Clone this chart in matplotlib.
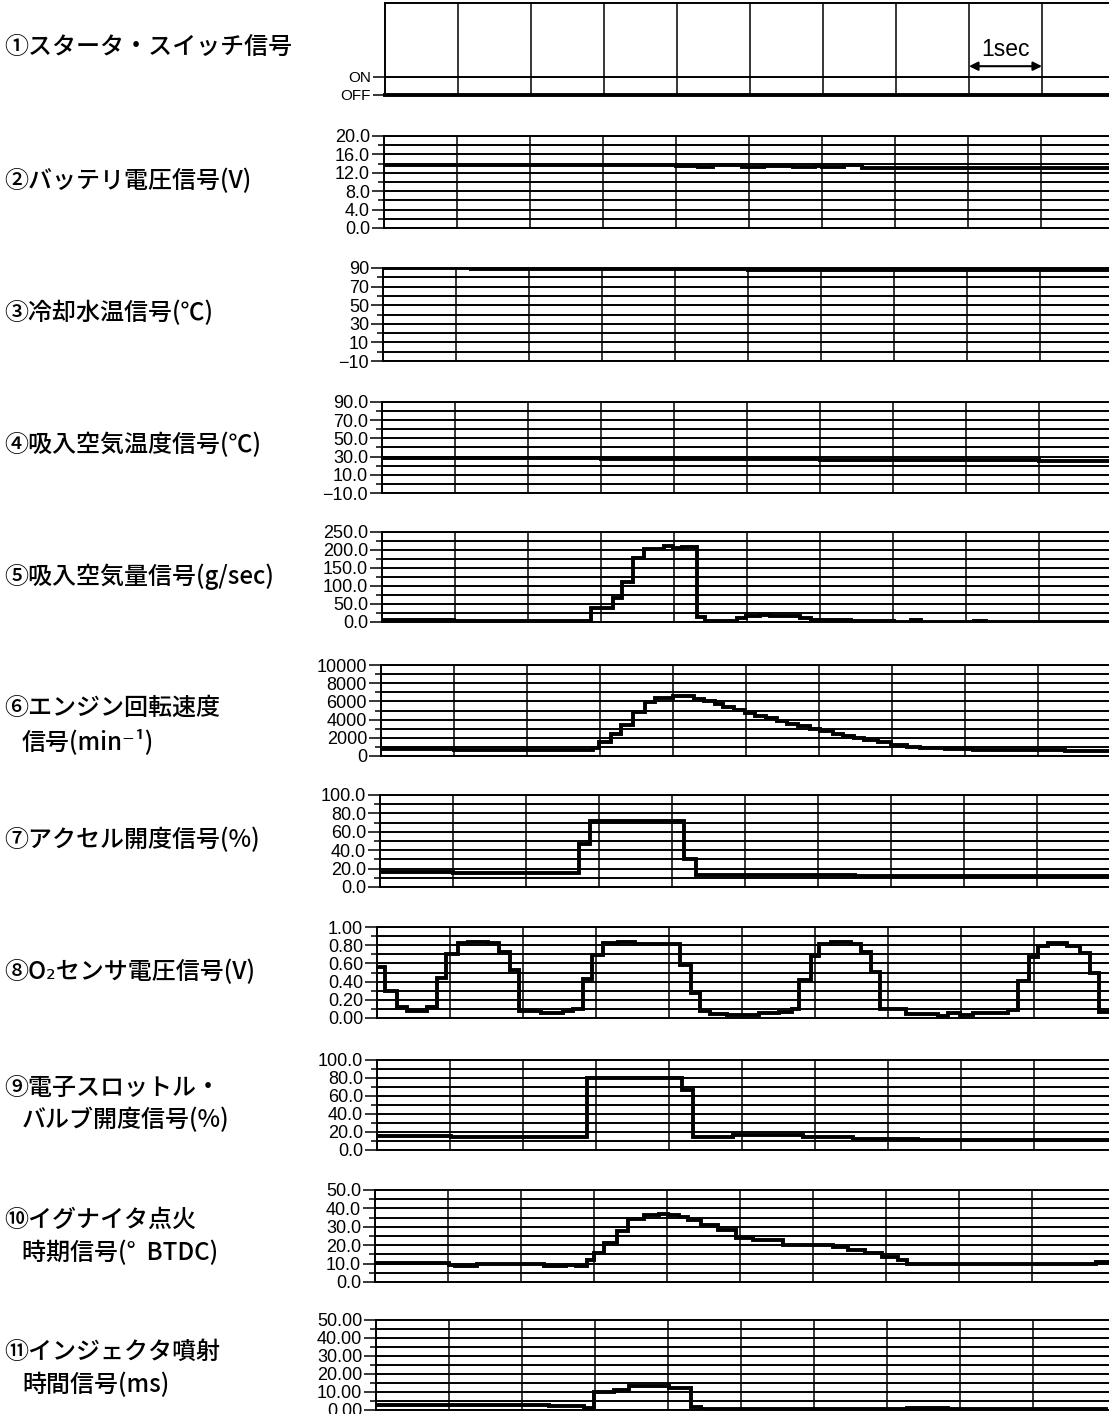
import matplotlib
matplotlib.use('Agg')
import matplotlib.pyplot as plt
import numpy as np

plt.rcParams['font.family'] = ['Liberation Sans', 'DejaVu Sans']

W, H = 1109, 1414
PX_PER_SEC = 73.0
JP = ['Noto Sans CJK JP', 'DejaVu Sans']

# ---------------- data ----------------
panel_titles = [
    ["①スタータ・スイッチ信号"],
    ["②バッテリ電圧信号(V)"],
    ["③冷却水温信号(℃)"],
    ["④吸入空気温度信号(℃)"],
    ["⑤吸入空気量信号(g/sec)"],
    ["⑥エンジン回転速度", "信号(min⁻¹)"],
    ["⑦アクセル開度信号(%)"],
    ["⑧O₂センサ電圧信号(V)"],
    ["⑨電子スロットル・", "バルブ開度信号(%)"],
    ["⑩イグナイタ点火", "時期信号(°  BTDC)"],
    ["⑪インジェクタ噴射", "時間信号(ms)"],
]

# 1: starter switch (0 = OFF, 1 = ON)
starter_t = [0, 10]
starter_v = [0, 0]
starter_ticks = [0, 1]
starter_ticklabels = ["OFF", "ON"]

# 2: battery voltage (V)
batt_t = [0, 4.0, 4.3, 4.5, 4.9, 5.2, 5.6, 5.9, 6.0, 6.3, 6.55, 10]
batt_v = [13.7, 13.5, 13.2, 13.6, 13.3, 13.4, 13.2, 13.5, 13.3, 13.6, 13.1, 13.1]
batt_ticks = [0, 4, 8, 12, 16, 20]
batt_ticklabels = ["0.0", "4.0", "8.0", "12.0", "16.0", "20.0"]

# 3: coolant temperature (deg C)
cool_t = [0, 1.2, 3.0, 5.0, 8.5, 10]
cool_v = [89.5, 89, 88.5, 88, 87.5, 87.5]
cool_ticks = [-10, 10, 30, 50, 70, 90]
cool_ticklabels = ["−10", "10", "30", "50", "70", "90"]

# 4: intake air temperature (deg C)
iat_t = [0, 3.0, 6.0, 9.0, 10]
iat_v = [28, 27.5, 26.5, 25, 25]
iat_ticks = [-10, 10, 30, 50, 70, 90]
iat_ticklabels = ["−10.0", "10.0", "30.0", "50.0", "70.0", "90.0"]

# 5: mass air flow (g/sec)
maf_t = [0, 0.98, 2.86, 3.17, 3.29, 3.44, 3.59, 3.86, 3.98, 4.11, 4.31, 4.43,
         4.86, 4.98, 5.18, 5.32, 5.73, 5.87, 6.43, 7.01, 7.25, 7.39, 8.11, 8.28, 10]
maf_v = [5, 2, 38, 67, 110, 178, 202, 211, 205, 209, 14, 3,
         12, 17, 19, 17, 10, 6, 2, 1, 6, 0.5, 4, 0, 0]
maf_ticks = [0, 50, 100, 150, 200, 250]
maf_ticklabels = ["0.0", "50.0", "100.0", "150.0", "200.0", "250.0"]

# 6: engine speed (min^-1)
rpm_t = [0, 1.0, 2.90, 2.99, 3.15, 3.29, 3.45, 3.61, 3.75, 4.0, 4.29, 4.43, 4.57,
         4.69, 4.84, 4.98, 5.13, 5.27, 5.42, 5.56, 5.71, 5.87, 6.02, 6.19, 6.33,
         6.48, 6.62, 6.81, 6.98, 7.20, 7.39, 7.73, 8.11, 8.59, 9.37, 10]
rpm_v = [780, 680, 900, 1550, 2400, 3400, 4850, 5950, 6400, 6600, 6300, 6050, 5750,
         5400, 5050, 4750, 4450, 4150, 3850, 3550, 3300, 3000, 2750, 2450, 2200,
         1950, 1750, 1500, 1250, 1000, 850, 730, 690, 650, 580, 550]
rpm_ticks = [0, 2000, 4000, 6000, 8000, 10000]
rpm_ticklabels = ["0", "2000", "4000", "6000", "8000", "10000"]

# 7: accelerator opening (%)
acc_t = [0, 1.0, 2.73, 2.88, 4.17, 4.33, 6.5, 10]
acc_v = [16.5, 15, 47, 72, 30, 13.5, 12, 12]
acc_ticks = [0, 20, 40, 60, 80, 100]
acc_ticklabels = ["0.0", "20.0", "40.0", "60.0", "80.0", "100.0"]

# 8: O2 sensor voltage (V)
o2_t = [0, 0.116, 0.272, 0.408, 0.680, 0.816, 0.952, 1.109, 1.245, 1.517, 1.667,
        1.816, 1.939, 2.245, 2.551, 2.687, 2.823, 2.939, 3.095, 3.299, 3.537,
        4.150, 4.306, 4.422, 4.558, 4.796, 5.238, 5.510, 5.680, 5.782, 5.939,
        6.054, 6.224, 6.497, 6.633, 6.769, 6.891, 7.245, 7.687, 7.823, 7.993,
        8.163, 8.469, 8.639, 8.776, 8.932, 9.048, 9.197, 9.456, 9.626, 9.762,
        9.884, 10.1]
o2_v = [0.56, 0.30, 0.12, 0.08, 0.12, 0.44, 0.70, 0.82, 0.84, 0.82, 0.73,
        0.53, 0.08, 0.06, 0.08, 0.10, 0.43, 0.69, 0.82, 0.84, 0.81,
        0.58, 0.28, 0.08, 0.04, 0.03, 0.05, 0.07, 0.10, 0.42, 0.68,
        0.81, 0.84, 0.81, 0.72, 0.51, 0.10, 0.04, 0.02, 0.05, 0.03,
        0.05, 0.06, 0.09, 0.41, 0.67, 0.79, 0.82, 0.79, 0.71, 0.50,
        0.07, 0.07]
o2_ticks = [0, 0.2, 0.4, 0.6, 0.8, 1.0]
o2_ticklabels = ["0.00", "0.20", "0.40", "0.60", "0.80", "1.00"]

# 9: electronic throttle opening (%)
thr_t = [0, 1.01, 2.87, 4.18, 4.33, 4.88, 5.84, 6.52, 7.41, 10]
thr_v = [15.5, 14.5, 80, 67, 14, 17, 14.5, 12.5, 11, 11]
thr_ticks = [0, 20, 40, 60, 80, 100]
thr_ticklabels = ["0.0", "20.0", "40.0", "60.0", "80.0", "100.0"]

# 10: ignition timing (deg BTDC)
ign_t = [0, 1.01, 1.09, 1.40, 2.32, 2.62, 2.76, 2.90, 3.0, 3.14, 3.31, 3.46, 3.68,
         3.89, 4.02, 4.16, 4.29, 4.46, 4.70, 4.94, 5.18, 5.59, 6.27, 6.48, 6.71,
         6.95, 7.16, 7.29, 9.88, 10.1]
ign_v = [10.1, 9.5, 8.6, 10.0, 8.6, 9.5, 8.6, 11.9, 15.6, 21.0, 27.5, 34.0, 36.3,
         37.2, 36.3, 35.2, 33.5, 31.1, 28.4, 23.8, 22.9, 20.0, 18.9, 17.4, 15.6,
         13.7, 11.9, 9.7, 11.0, 11.0]
ign_ticks = [0, 10, 20, 30, 40, 50]
ign_ticklabels = ["0.0", "10.0", "20.0", "30.0", "40.0", "50.0"]

# 11: injector pulse width (ms)
inj_t = [0, 2.37, 2.85, 2.99, 3.26, 3.46, 3.74, 4.01, 4.31, 4.45, 7.28, 7.83, 10]
inj_v = [3.0, 2.4, 1.0, 10, 11, 13.3, 13.6, 12.4, 1.5, 0.5, 1.0, 0.5, 0.5]
inj_ticks = [0, 10, 20, 30, 40, 50]
inj_ticklabels = ["0.00", "10.00", "20.00", "30.00", "40.00", "50.00"]

series = [
    (starter_t, starter_v, starter_ticks, starter_ticklabels),
    (batt_t, batt_v, batt_ticks, batt_ticklabels),
    (cool_t, cool_v, cool_ticks, cool_ticklabels),
    (iat_t, iat_v, iat_ticks, iat_ticklabels),
    (maf_t, maf_v, maf_ticks, maf_ticklabels),
    (rpm_t, rpm_v, rpm_ticks, rpm_ticklabels),
    (acc_t, acc_v, acc_ticks, acc_ticklabels),
    (o2_t, o2_v, o2_ticks, o2_ticklabels),
    (thr_t, thr_v, thr_ticks, thr_ticklabels),
    (ign_t, ign_v, ign_ticks, ign_ticklabels),
    (inj_t, inj_v, inj_ticks, inj_ticklabels),
]

# ---------------- layout (pixels) ----------------
# (left x of axis, top y, bottom y)
layout = [
    (385, 3, 95), (384, 136, 228), (383, 268, 361), (382, 402, 493),
    (382, 532, 622), (381, 665, 756), (380, 795, 887), (377, 927, 1018),
    (377, 1060, 1150), (375, 1190, 1282), (376, 1320, 1410),
]
# label positions: list of y centres per line
label_y = [[47], [181], [313], [445], [577], [708, 742], [840], [972],
           [1088, 1120], [1220, 1253], [1352, 1385]]

fig = plt.figure(figsize=(W / 100, H / 100), dpi=100)
fig.patch.set_facecolor('white')

LW_GRID = 1.4
LW_DATA = 2.8

for i, ((t, v, ticks, ticklabels), (x0, ytop, ybot)) in enumerate(zip(series, layout)):
    ax = fig.add_axes([x0 / W, 1 - ybot / H, (W - x0) / W, (ybot - ytop) / H])
    xmax = (W - x0) / PX_PER_SEC
    ax.set_xlim(0, xmax)
    ax.set_axisbelow(True)
    if i == 0:
        ymax = (ybot - ytop) / (ybot - 77)
        ax.set_ylim(0, ymax)
        ax.set_yticks(ticks)
        ax.set_yticklabels(ticklabels, fontsize=11)
        ax.axhline(1, color='black', lw=LW_GRID, zorder=1)
    else:
        step = ticks[1] - ticks[0]
        ax.set_ylim(ticks[0], ticks[-1])
        ax.set_yticks(ticks)
        ax.set_yticklabels(ticklabels, fontsize=13)
        minors = [tk + step / 2 for tk in ticks[:-1]]
        ax.set_yticks(minors, minor=True)
        ax.grid(which='both', axis='y', color='black', lw=LW_GRID, zorder=1)
    ax.set_xticks(np.arange(1, 10))
    ax.grid(which='major', axis='x', color='black', lw=1.1, zorder=1)
    ax.tick_params(axis='x', length=0, labelbottom=False)
    ax.tick_params(axis='y', which='major', length=9, width=1.1, pad=1, colors='black')
    ax.tick_params(axis='y', which='minor', length=4, width=1.1)
    for s in ['left', 'top', 'bottom']:
        ax.spines[s].set_linewidth(LW_GRID)
    ax.spines['right'].set_visible(False)
    ax.step(t, v, where='post', color='black', lw=LW_DATA, zorder=3,
            solid_joinstyle='miter', clip_on=(i != 0))

    if i == 0:
        ax.annotate('', xy=(8.0, 1.6), xytext=(9.0, 1.6),
                    arrowprops=dict(arrowstyle='<|-|>', color='black', lw=1.5,
                                    mutation_scale=13, shrinkA=0, shrinkB=0))
        ax.text(8.5, 2.55, '1sec', ha='center', va='center', fontsize=16.5)

    # left titles
    for j, (line, y) in enumerate(zip(panel_titles[i], label_y[i])):
        x = 4 if j == 0 else 22
        fig.text(x / W, 1 - y / H, line, family=JP, fontsize=17.3,
                 fontweight='medium', ha='left', va='center')

fig.savefig('out.png', dpi=100, facecolor='white')
